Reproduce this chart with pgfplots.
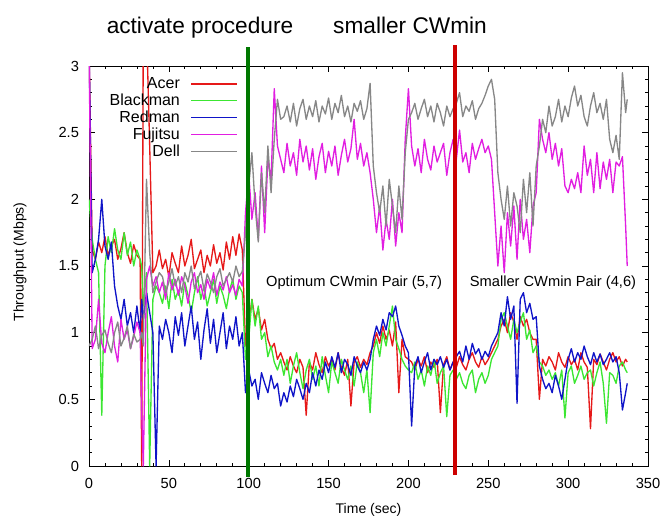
\documentclass[border=0pt]{standalone}
\usepackage{fontspec}
\setmainfont{Liberation Sans}
\usepackage{pgfplots}
\usepackage{pgfplotstable}
\pgfplotsset{compat=1.18}
\definecolor{acer}{RGB}{230,25,25}
\definecolor{blackman}{RGB}{60,230,50}
\definecolor{redman}{RGB}{15,20,200}
\definecolor{fujitsu}{RGB}{225,30,225}
\definecolor{dell}{RGB}{135,135,135}
\definecolor{vgreen}{RGB}{0,120,0}
\definecolor{vred}{RGB}{205,0,0}

% t: time (sec); a=Acer, b=Blackman, r=Redman, f=Fujitsu, d=Dell (Mbps)
\pgfplotstableread{
t a b r f d
0 3.20 2.00 3.20 3.20 0.90
2 1.62 1.70 1.45 0.88 0.95
4 1.55 1.55 1.55 0.95 1.05
6 1.68 1.45 1.70 1.25 0.88
8 1.60 0.38 2.00 0.92 0.98
10 1.72 1.50 1.65 0.85 1.02
12 1.58 1.72 1.55 1.00 0.92
14 1.65 1.60 1.68 1.12 0.85
16 1.70 1.78 1.35 0.90 1.00
18 1.55 1.62 1.20 0.78 1.08
20 1.63 1.55 1.10 1.10 0.90
22 1.75 1.75 1.25 0.95 0.96
24 1.60 1.58 1.05 1.02 1.05
26 1.52 1.68 1.15 0.88 0.88
28 1.66 1.50 1.00 0.97 0.99
30 1.58 1.62 1.20 1.08 0.93
32 1.55 1.55 1.00 1.00 0.95
33 0.00 1.50 1.25 0.40 1.00
34 3.30 1.20 1.10 0.00 0.90
36 3.30 1.45 1.30 1.40 2.15
38 2.40 0.00 1.15 1.50 1.60
40 1.45 1.25 1.00 1.35 1.30
42 1.50 1.35 0.00 1.42 1.38
44 1.62 1.30 1.05 1.30 1.45
46 1.48 1.22 0.95 1.38 1.42
48 1.55 1.35 1.10 1.25 1.30
50 1.42 1.18 1.00 1.45 1.38
52 1.60 1.40 0.85 1.32 1.48
54 1.52 1.25 1.12 1.40 1.35
56 1.45 1.32 0.98 1.28 1.42
58 1.65 1.20 1.15 1.42 1.30
60 1.50 1.38 0.90 1.35 1.45
62 1.58 1.28 1.05 1.22 1.38
64 1.70 1.15 1.20 1.38 1.50
66 1.48 1.30 0.95 1.45 1.33
68 1.55 1.42 1.08 1.30 1.40
70 1.62 1.25 0.80 1.36 1.46
72 1.45 1.35 1.02 1.25 1.32
74 1.58 1.20 1.18 1.40 1.44
76 1.50 1.30 0.92 1.33 1.38
78 1.66 1.40 1.10 1.45 1.30
80 1.52 1.22 0.85 1.28 1.42
82 1.60 1.35 1.00 1.38 1.48
84 1.47 1.28 1.15 1.32 1.35
86 1.68 1.18 0.88 1.42 1.40
88 1.55 1.32 1.05 1.30 1.45
90 1.72 1.40 0.95 1.36 1.38
92 1.58 1.25 1.12 1.28 1.50
94 1.74 1.35 0.90 1.40 1.42
96 1.62 1.30 1.00 1.35 1.46
98 0.90 0.80 0.55 1.90 1.75
100 1.05 0.95 0.72 2.20 2.10
102 1.25 1.25 0.60 1.85 2.35
104 1.10 1.05 0.65 2.05 1.95
106 1.18 1.20 0.50 1.70 1.68
108 1.02 0.95 0.70 2.25 2.20
110 1.10 1.00 0.62 1.75 1.90
112 0.95 0.82 0.55 2.30 2.40
114 0.88 0.90 0.68 2.15 2.05
116 0.92 0.78 0.58 2.83 2.45
118 0.80 0.72 0.62 2.40 2.75
120 0.85 0.80 0.45 2.30 2.60
122 0.78 0.68 0.55 2.20 2.62
124 0.72 0.80 0.48 2.42 2.70
126 0.82 0.62 0.60 2.25 2.58
128 0.75 0.75 0.52 2.35 2.72
130 0.70 0.85 0.65 2.18 2.55
132 0.80 0.70 0.58 2.45 2.68
134 0.74 0.58 0.50 2.28 2.75
136 0.38 0.72 0.62 2.40 2.60
138 0.78 0.80 0.55 2.22 2.70
140 0.72 0.65 0.70 2.38 2.62
142 0.85 0.75 0.60 2.15 2.74
144 0.76 0.60 0.72 2.32 2.58
146 0.70 0.82 0.65 2.42 2.70
148 0.82 0.68 0.78 2.20 2.64
150 0.75 0.55 0.70 2.36 2.76
152 0.80 0.78 0.82 2.25 2.60
154 0.72 0.70 0.74 2.40 2.72
156 0.85 0.62 0.85 2.18 2.65
158 0.74 0.80 0.70 2.33 2.78
160 0.68 0.72 0.80 2.45 2.62
162 0.80 0.65 0.76 2.28 2.70
164 0.45 0.75 0.68 2.38 2.58
166 0.78 0.60 0.82 2.60 2.72
168 0.82 0.78 0.75 2.30 2.66
170 0.74 0.70 0.70 2.42 2.74
172 0.80 0.55 0.78 2.25 2.60
174 0.76 0.72 0.72 2.35 2.68
176 0.85 0.40 0.80 2.20 2.87
178 0.90 0.85 0.95 2.00 2.25
180 1.00 0.95 1.05 1.75 2.05
182 0.92 0.82 0.98 1.95 1.90
184 1.05 1.00 1.10 1.62 2.10
186 0.95 0.90 1.02 1.85 1.80
188 1.02 1.05 1.15 1.70 2.15
190 0.90 1.20 1.12 2.00 1.95
192 1.08 0.95 1.20 1.65 1.75
194 0.55 0.88 1.05 1.90 2.10
196 0.95 0.80 0.98 1.75 1.85
198 0.82 0.75 0.90 2.45 2.35
200 0.80 0.72 0.85 2.83 2.60
202 0.78 0.70 0.30 2.40 2.65
204 0.72 0.78 0.75 2.25 2.72
206 0.80 0.65 0.82 2.38 2.60
208 0.75 0.72 0.70 2.20 2.68
210 0.82 0.60 0.78 2.45 2.75
212 0.70 0.75 0.85 2.30 2.62
214 0.78 0.68 0.72 2.22 2.70
216 0.74 0.80 0.80 2.40 2.58
218 0.80 0.62 0.76 2.28 2.72
220 0.40 0.70 0.82 2.35 2.65
222 0.76 0.75 0.74 2.42 2.55
224 0.82 0.37 0.80 2.18 2.70
226 0.72 0.68 0.72 2.35 2.62
228 0.78 0.72 0.78 2.45 2.68
230 0.74 0.65 0.82 2.30 2.72
232 0.82 0.70 0.86 2.52 2.80
234 0.76 0.62 0.78 2.28 2.62
236 0.72 0.58 0.90 2.35 2.70
238 0.80 0.68 0.80 2.20 2.66
240 0.85 0.72 0.92 2.42 2.74
242 0.78 0.55 0.84 2.30 2.60
244 0.74 0.65 0.88 2.38 2.68
246 0.82 0.70 0.80 2.45 2.72
248 0.76 0.62 0.86 2.35 2.78
250 0.80 0.68 0.82 2.40 2.85
252 0.85 0.80 0.90 2.30 2.90
254 0.90 0.85 0.95 1.90 2.75
256 0.95 0.90 1.00 1.50 2.20
258 1.05 1.10 1.15 1.80 2.00
260 1.10 1.15 1.05 1.45 1.85
262 1.00 1.05 1.27 1.90 2.10
264 1.15 0.95 1.10 1.65 1.80
266 1.08 1.10 1.20 1.95 2.05
268 0.95 1.00 0.47 1.55 1.95
270 1.12 1.08 1.25 2.00 1.75
272 1.05 1.15 1.30 1.70 2.15
274 1.10 0.95 1.15 1.85 1.90
276 1.00 1.02 1.22 1.60 2.20
278 0.95 0.85 1.10 1.95 1.80
280 0.95 0.90 1.12 2.05 2.25
282 0.50 0.78 0.75 2.60 2.40
284 0.80 0.75 0.65 2.45 2.60
286 0.75 0.68 0.58 2.35 2.50
288 0.82 0.72 0.62 2.50 2.70
290 0.78 0.65 0.55 2.30 2.55
292 0.72 0.70 0.68 2.42 2.62
294 0.85 0.60 0.60 2.25 2.75
296 0.78 0.72 0.50 2.38 2.58
298 0.74 0.36 0.65 2.10 2.70
300 0.82 0.70 0.80 2.05 2.62
302 0.76 0.75 0.88 2.15 2.76
304 0.80 0.62 0.78 2.08 2.85
306 0.72 0.68 0.85 2.20 2.70
308 0.85 0.75 0.80 2.05 2.78
310 0.78 0.65 0.90 2.40 2.62
312 0.74 0.70 0.82 2.18 2.55
314 0.28 0.72 0.76 2.30 2.70
316 0.80 0.60 0.85 2.05 2.80
318 0.76 0.70 0.78 2.35 2.65
320 0.84 0.78 0.84 2.08 2.72
322 0.78 0.62 0.76 2.28 2.60
324 0.72 0.32 0.80 2.15 2.75
326 0.80 0.70 0.85 2.30 2.45
328 0.85 0.68 0.78 2.05 2.35
330 0.78 0.62 0.82 2.28 2.48
332 0.82 0.75 0.70 2.25 2.30
334 0.75 0.78 0.42 2.32 2.95
336 0.80 0.72 0.55 1.80 2.65
337 0.78 0.70 0.62 1.50 2.75
}\thru

\begin{document}
\begin{tikzpicture}
\path[use as bounding box] (-66.75pt,-39.75pt) rectangle (431.25pt,349.5pt);
\begin{axis}[
  at={(0,0)}, anchor=south west,
  scale only axis, width=419.25pt, height=300pt,
  xmin=0, xmax=350, ymin=0, ymax=3,
  xtick={0,50,100,150,200,250,300,350}, minor x tick num=4,
  ytick={0,0.5,1,1.5,2,2.5,3}, minor y tick num=4,
  tick align=inside,
  major tick length=4.5pt, minor tick length=2.25pt,
  every tick/.style={black, line width=0.5pt},
  axis line style={line width=0.6pt},
  /pgf/number format/assume math mode=true,
  ticklabel style={font=\fontsize{11}{13}\selectfont},
  xticklabel style={yshift=-6pt},
  yticklabel style={xshift=-4pt},
  xlabel={Time (sec)}, ylabel={Throughput (Mbps)},
  label style={font=\fontsize{10.5}{12}\selectfont},
  xlabel style={at={(axis description cs:0.5,-0.1175)}, anchor=base},
  ylabel style={at={(axis description cs:-0.1234,0.51)}, anchor=center},
  legend plot pos=right,
  legend cell align=right,
  legend image code/.code={\path (0pt,0pt); \draw[#1] (6pt,0pt) -- (40.5pt,0pt);},
  legend style={at={(0.274,0.985)}, anchor=north east, draw=none, fill=none,
    font=\fontsize{12}{12}\selectfont, row sep=-1.5pt},
  every axis plot/.append style={line width=1pt, line join=round},
]
\addplot[acer] table[x=t, y=a] {\thru};
\addplot[blackman] table[x=t, y=b] {\thru};
\addplot[redman] table[x=t, y=r] {\thru};
\addplot[fujitsu] table[x=t, y=f] {\thru};
\addplot[dell] table[x=t, y=d] {\thru};
\legend{Acer, Blackman, Redman, Fujitsu, Dell}

\node[anchor=base, font=\fontsize{11}{13}\selectfont] at (axis cs:166,1.35) {Optimum CWmin Pair (5,7)};
\node[anchor=base, font=\fontsize{11}{13}\selectfont] at (axis cs:290.5,1.35) {Smaller CWmin Pair (4,6)};

\coordinate (g0) at (axis cs:99.5,-0.079);
\coordinate (g1) at (axis cs:99.5,3.146);
\coordinate (r0) at (axis cs:229,-0.068);
\coordinate (r1) at (axis cs:229,3.158);
\coordinate (t1) at (axis cs:69.5,3.245);
\coordinate (t2) at (axis cs:201,3.245);
\end{axis}
\draw[vgreen, line width=3pt] (g0) -- (g1);
\draw[vred, line width=3pt] (r0) -- (r1);
\node[anchor=base, font=\fontsize{17}{20}\selectfont] at (t1) {activate procedure};
\node[anchor=base, font=\fontsize{17}{20}\selectfont] at (t2) {smaller CWmin};
\end{tikzpicture}
\end{document}
